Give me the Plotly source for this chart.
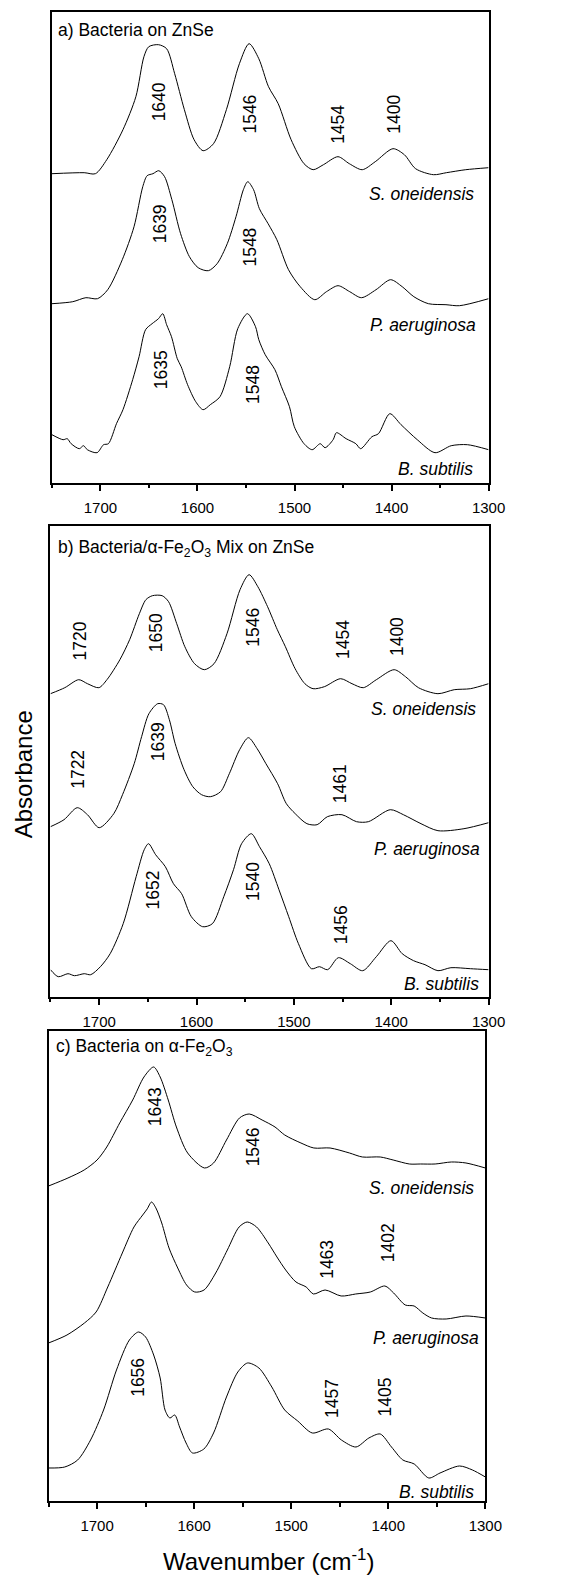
import plotly.graph_objects as go

FONT = "Liberation Sans, Arial, sans-serif"

# ---------------- data (wavenumber, absorbance a.u., offset traces) ----------------
# Panel a: Bacteria on ZnSe
a_so_wn = [1750, 1716.8, 1705.2, 1693.5, 1676.8, 1663.5, 1655.2, 1650.2, 1640.2, 1631.8,
           1623.5, 1613.5, 1603.5, 1594.2, 1583.5, 1570.2, 1556.8, 1546.8, 1536.8, 1526.8,
           1516.8, 1503.5, 1490.2, 1480.8, 1470.2, 1455.2, 1443.5, 1430.2, 1416.8, 1398.5,
           1386.8, 1375.2, 1356.8, 1343.5, 1323.5, 1300]
a_so_ab = [3.09, 3.10, 3.09, 3.23, 3.53, 3.86, 4.26, 4.36, 4.38, 4.34,
           4.09, 3.73, 3.43, 3.32, 3.39, 3.73, 4.19, 4.39, 4.24, 3.96,
           3.79, 3.43, 3.19, 3.13, 3.18, 3.26, 3.19, 3.13, 3.21, 3.34,
           3.28, 3.14, 3.08, 3.10, 3.13, 3.15]

a_pa_wn = [1750, 1728.5, 1715, 1703, 1692.5, 1677.5, 1665.4, 1656.4, 1651.9, 1645.9,
           1639.9, 1633.9, 1626.4, 1617.4, 1608.3, 1599.3, 1588.8, 1579.8, 1569.3, 1560.3,
           1552.7, 1548.2, 1542.2, 1536.2, 1527.2, 1518.2, 1506.2, 1494.1, 1479.1, 1467.1,
           1455.1, 1443.1, 1431, 1416, 1401, 1389, 1377, 1362, 1343.9, 1330, 1300]
a_pa_ab = [1.79, 1.81, 1.85, 1.84, 1.93, 2.23, 2.56, 2.96, 3.07, 3.09,
           3.12, 3.06, 2.83, 2.49, 2.26, 2.15, 2.12, 2.19, 2.39, 2.66,
           2.93, 3.01, 2.93, 2.74, 2.59, 2.43, 2.13, 1.96, 1.83, 1.91,
           1.97, 1.91, 1.85, 1.93, 2.03, 1.96, 1.86, 1.79, 1.78, 1.77, 1.84]

a_bs_wn = [1750, 1738.5, 1734.2, 1730.2, 1721.8, 1717.5, 1713.5, 1703.5, 1696.8, 1691.8,
           1683.5, 1676.8, 1666.8, 1660.2, 1653.5, 1646.8, 1640.2, 1635.8, 1631.8, 1626.8,
           1620.8, 1616.8, 1610.2, 1601.8, 1594.2, 1586.8, 1576.8, 1566.8, 1558.5, 1548.5,
           1540.2, 1536.8, 1530.2, 1520.2, 1513.5, 1505.2, 1500.2, 1490.2, 1481.8, 1473.5,
           1468.5, 1460.2, 1456.8, 1446.8, 1436.8, 1431.8, 1420.2, 1413.5, 1401.8, 1390.2,
           1373.5, 1355.2, 1338.5, 1321.8, 1300]
a_bs_ab = [0.48, 0.43, 0.44, 0.39, 0.34, 0.37, 0.33, 0.30, 0.38, 0.39,
           0.59, 0.73, 1.03, 1.26, 1.53, 1.59, 1.64, 1.69, 1.58, 1.46,
           1.24, 1.16, 0.98, 0.81, 0.73, 0.78, 0.86, 1.16, 1.54, 1.69,
           1.56, 1.43, 1.28, 1.13, 0.96, 0.76, 0.56, 0.39, 0.33, 0.39,
           0.35, 0.43, 0.50, 0.44, 0.39, 0.34, 0.46, 0.49, 0.69, 0.58,
           0.43, 0.30, 0.37, 0.38, 0.33]

# Panel b: Bacteria/alpha-Fe2O3 mix on ZnSe
b_so_wn = [1750, 1735.3, 1721, 1712, 1700.3, 1692, 1678.7, 1668.7, 1658.7, 1652,
           1645.3, 1635.3, 1628.7, 1620.3, 1612, 1602, 1592, 1582, 1568.7, 1555.3,
           1546, 1537, 1527, 1517, 1508.7, 1498.7, 1488.7, 1480.3, 1468.7, 1452,
           1440.3, 1428.7, 1415.3, 1397, 1385.3, 1372, 1352, 1335.3, 1318.7, 1300]
b_so_ab = [3.03, 3.09, 3.17, 3.13, 3.09, 3.17, 3.37, 3.57, 3.83, 3.97,
           4.01, 4.01, 3.95, 3.73, 3.50, 3.33, 3.27, 3.33, 3.63, 4.07,
           4.22, 4.10, 3.90, 3.67, 3.50, 3.28, 3.13, 3.08, 3.10, 3.18,
           3.13, 3.09, 3.17, 3.27, 3.20, 3.09, 3.03, 3.07, 3.08, 3.13]

b_pa_wn = [1750, 1736.1, 1722.5, 1712, 1700, 1685, 1676, 1664, 1656.4, 1648.9,
           1639.9, 1633.9, 1627.9, 1621.9, 1612.8, 1603.8, 1594.8, 1585.8, 1575.3, 1566.3,
           1555.7, 1546.7, 1537.7, 1528.7, 1516.7, 1507.7, 1498.6, 1486.6, 1476.1, 1465.6,
           1450.6, 1435.6, 1423.5, 1401, 1387.5, 1369.4, 1352, 1325.3, 1300]
b_pa_ab = [1.70, 1.77, 1.89, 1.82, 1.69, 1.83, 2.02, 2.33, 2.60, 2.83,
           2.93, 2.92, 2.77, 2.53, 2.27, 2.10, 2.02, 2.00, 2.05, 2.23,
           2.47, 2.59, 2.48, 2.33, 2.13, 1.93, 1.83, 1.73, 1.72, 1.80,
           1.82, 1.75, 1.75, 1.87, 1.82, 1.73, 1.66, 1.68, 1.74]

b_bs_wn = [1750, 1742, 1732, 1725.3, 1715.3, 1708.7, 1698.7, 1688.7, 1675.3, 1662,
           1653.7, 1649.3, 1642, 1632, 1623.7, 1615.3, 1605.3, 1593.7, 1583.7, 1572,
           1562, 1553.7, 1543.7, 1535.3, 1525.3, 1515.3, 1505.3, 1495.3, 1482, 1473.7,
           1465.3, 1454.3, 1442, 1429.3, 1415.3, 1400.3, 1388.7, 1377, 1365.3, 1352,
           1338.7, 1318.7, 1300]
b_bs_ab = [0.27, 0.20, 0.23, 0.21, 0.23, 0.22, 0.30, 0.43, 0.73, 1.20,
           1.47, 1.53, 1.42, 1.30, 1.13, 1.03, 0.80, 0.70, 0.73, 1.00,
           1.27, 1.53, 1.63, 1.50, 1.33, 1.07, 0.80, 0.53, 0.28, 0.30,
           0.27, 0.39, 0.33, 0.26, 0.40, 0.56, 0.43, 0.36, 0.32, 0.26,
           0.29, 0.28, 0.27]

# Panel c: Bacteria on alpha-Fe2O3
c_so_wn = [1750, 1730, 1713.3, 1700, 1690, 1676.7, 1663.3, 1651.7, 1641.7, 1635,
           1626.7, 1618.3, 1606.7, 1589.3, 1580, 1566.7, 1553.3, 1543.3, 1530, 1516.7,
           1506.7, 1490, 1476.7, 1460, 1440, 1426.7, 1408.3, 1395, 1378.3, 1366.7,
           1351.7, 1335, 1320, 1300]
c_so_ab = [3.15, 3.23, 3.31, 3.41, 3.54, 3.78, 4.01, 4.24, 4.34, 4.24,
           4.01, 3.74, 3.48, 3.33, 3.38, 3.61, 3.83, 3.87, 3.81, 3.74,
           3.66, 3.58, 3.53, 3.53, 3.48, 3.44, 3.44, 3.41, 3.37, 3.37,
           3.37, 3.39, 3.38, 3.33]

c_pa_wn = [1750, 1731, 1713, 1701, 1689, 1674, 1662, 1653, 1648.4, 1643.9,
           1639.4, 1633.4, 1625.9, 1616.9, 1607.8, 1599.4, 1589.8, 1577.8, 1565.8, 1553.7,
           1545.3, 1535.7, 1523.7, 1514.7, 1505.7, 1495.1, 1484.6, 1477.1, 1465.1, 1448.6,
           1433.6, 1418.5, 1403.5, 1394.5, 1382.5, 1373.4, 1364.4, 1355.4, 1340.4, 1320, 1300]
c_pa_ab = [1.58, 1.66, 1.78, 1.89, 2.14, 2.48, 2.74, 2.86, 2.92, 2.99,
           2.93, 2.78, 2.53, 2.33, 2.16, 2.09, 2.11, 2.28, 2.51, 2.74,
           2.79, 2.74, 2.58, 2.44, 2.31, 2.19, 2.14, 2.07, 2.11, 2.05,
           2.07, 2.09, 2.15, 2.08, 1.96, 1.95, 1.88, 1.83, 1.82, 1.85, 1.83]

c_bs_wn = [1750, 1733.3, 1720, 1706.7, 1693.3, 1680, 1666.7, 1657.3, 1650, 1641.7,
           1635, 1630, 1625, 1620, 1615, 1608.3, 1601.7, 1590, 1580, 1566.7,
           1555, 1545, 1533.3, 1520, 1506.7, 1493.3, 1478.3, 1461.7, 1448.3, 1433.3,
           1420, 1408.3, 1396.7, 1385, 1373.3, 1358.3, 1346.7, 1326.7, 1313.3, 1300]
c_bs_ab = [0.33, 0.34, 0.41, 0.61, 0.91, 1.31, 1.61, 1.69, 1.64, 1.46,
           1.23, 0.91, 0.83, 0.86, 0.74, 0.58, 0.48, 0.52, 0.68, 1.04,
           1.29, 1.38, 1.33, 1.14, 0.91, 0.80, 0.68, 0.72, 0.61, 0.54,
           0.63, 0.67, 0.54, 0.41, 0.37, 0.23, 0.28, 0.35, 0.31, 0.24]

species = ["S. oneidensis", "P. aeruginosa", "B. subtilis"]
panel_titles = ["a) Bacteria on ZnSe",
                "b) Bacteria/α-Fe<sub>2</sub>O<sub>3</sub> Mix on ZnSe",
                "c) Bacteria on α-Fe<sub>2</sub>O<sub>3</sub>"]

# peak labels: (text, wavenumber position, absorbance position)
a_peaks = [("1640", 1640, 3.81), ("1546", 1546, 3.69), ("1454", 1455, 3.58), ("1400", 1397.5, 3.69),
           ("1639", 1639, 2.59), ("1548", 1546, 2.36), ("1635", 1638, 1.13), ("1548", 1543.5, 0.98)]
b_peaks = [("1720", 1720, 3.56), ("1650", 1642, 3.64), ("1546", 1542, 3.70), ("1454", 1450.3, 3.57),
           ("1400", 1394.7, 3.60), ("1722", 1721.6, 2.27), ("1639", 1640, 2.55), ("1461", 1453, 2.13),
           ("1652", 1645, 1.07), ("1540", 1542.7, 1.15), ("1456", 1452, 0.72)]
c_peaks = [("1643", 1640, 3.94), ("1546", 1539, 3.54), ("1463", 1463.3, 2.42), ("1402", 1400, 2.58),
           ("1656", 1658, 1.24), ("1457", 1458, 1.03), ("1405", 1403, 1.04)]

# ---------------- layout geometry ----------------
W, H = 581, 1575
# (left px, right px, top px, bottom px) of each panel frame
frames = [(53.5, 503.3, 12.0, 482.7), (52.0, 503.3, 526.0, 996.7), (50.0, 500.0, 1030.7, 1501.0)]
# species label anchors (right wavenumber, absorbance)
sp_pos = [[(1312.5, 2.89), (1310.5, 1.58), (1313.5, 0.14)],
          [(1311.3, 2.88), (1307.0, 1.48), (1308.0, 0.13)],
          [(1309.3, 3.13), (1305.0, 1.63), (1309.3, 0.09)]]
title_pos = [(58.0, 30.0), (57.7, 548.3), (55.7, 1047.7)]

curves = [[(a_so_wn, a_so_ab), (a_pa_wn, a_pa_ab), (a_bs_wn, a_bs_ab)],
          [(b_so_wn, b_so_ab), (b_pa_wn, b_pa_ab), (b_bs_wn, b_bs_ab)],
          [(c_so_wn, c_so_ab), (c_pa_wn, c_pa_ab), (c_bs_wn, c_bs_ab)]]
peaks = [a_peaks, b_peaks, c_peaks]

fig = go.Figure()
annotations = []
for i in range(3):
    sfx = "" if i == 0 else str(i + 1)
    xa, ya = "x" + sfx, "y" + sfx
    for wn, ab in curves[i]:
        assert len(wn) == len(ab)
        fig.add_trace(go.Scatter(x=wn, y=ab, mode="lines", xaxis=xa, yaxis=ya,
                                 line=dict(color="black", width=1, shape="spline", smoothing=0.8),
                                 showlegend=False, hoverinfo="skip"))
    l, r, t, b = frames[i]
    yr = (b - t) / 100.0
    fig.update_layout(**{
        "xaxis" + sfx: dict(domain=[l / W, r / W], anchor=ya, range=[1750, 1300],
                            tickmode="linear", tick0=1300, dtick=100,
                            ticks="outside", ticklen=6, tickwidth=1.5, tickcolor="black",
                            minor=dict(tickmode="linear", tick0=1300, dtick=50, ticks="outside",
                                       ticklen=3.5, tickwidth=1.5, tickcolor="black", showgrid=False),
                            showline=True, linewidth=2, linecolor="black", mirror=True,
                            showgrid=False, zeroline=False, ticklabelstandoff=4,
                            tickfont=dict(family=FONT, size=15, color="black")),
        "yaxis" + sfx: dict(domain=[1 - b / H, 1 - t / H], anchor=xa, range=[0, yr],
                            showline=True, linewidth=2, linecolor="black", mirror=True,
                            ticks="", showticklabels=False, showgrid=False, zeroline=False),
    })
    for (name, (px, py)) in zip(species, sp_pos[i]):
        annotations.append(dict(text="<i>" + name + "</i>", x=px, y=py, xref=xa, yref=ya,
                                xanchor="right", yanchor="middle", showarrow=False,
                                font=dict(family=FONT, size=17.5, color="black")))
    for (txt, px, py) in peaks[i]:
        annotations.append(dict(text=txt, x=px, y=py, xref=xa, yref=ya, textangle=-90,
                                xanchor="center", yanchor="middle", showarrow=False,
                                font=dict(family=FONT, size=17.5, color="black")))
    tx, ty = title_pos[i]
    annotations.append(dict(text=panel_titles[i], x=tx / W, y=1 - ty / H, xref="paper", yref="paper",
                            xanchor="left", yanchor="middle", showarrow=False,
                            font=dict(family=FONT, size=17.5, color="black")))

annotations.append(dict(text="Absorbance", x=24 / W, y=1 - 774 / H, xref="paper", yref="paper",
                        textangle=-90, xanchor="center", yanchor="middle", showarrow=False,
                        font=dict(family=FONT, size=24, color="black")))
annotations.append(dict(text="Wavenumber (cm<sup>-1</sup>)", x=277 / W, y=1 - 1560 / H,
                        xref="paper", yref="paper", xanchor="center", yanchor="middle",
                        showarrow=False, font=dict(family=FONT, size=24, color="black")))

fig.update_layout(width=W, height=H, margin=dict(l=0, r=0, t=0, b=0),
                  paper_bgcolor="white", plot_bgcolor="white",
                  annotations=annotations, showlegend=False)
fig.write_html("out.html")
